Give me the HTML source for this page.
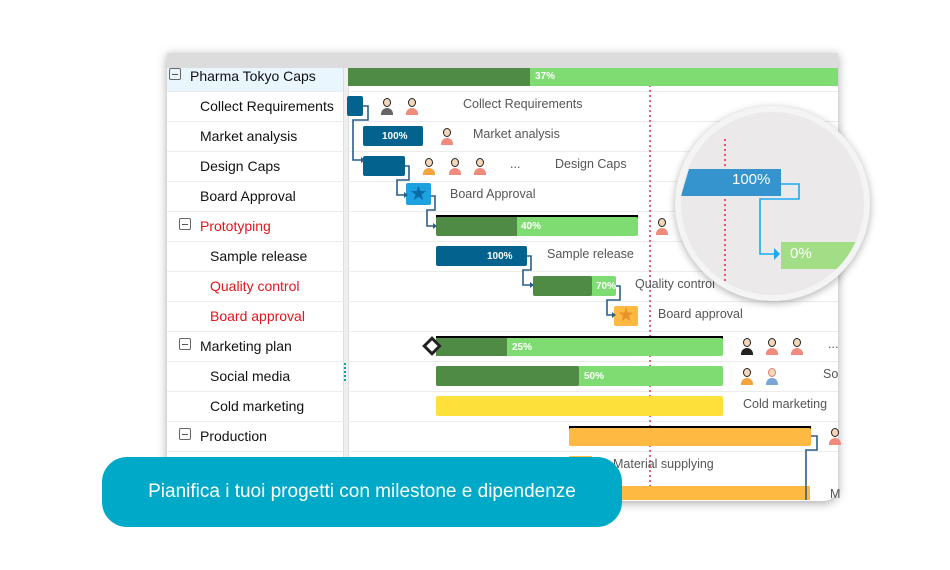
<!DOCTYPE html>
<html><head><meta charset="utf-8"><style>
*{margin:0;padding:0;box-sizing:border-box}
body{width:950px;height:570px;background:#fff;position:relative;overflow:hidden;font-family:"Liberation Sans",Arial,sans-serif}
.a{position:absolute}
.win{left:167px;top:53px;width:671px;height:448px;border-radius:0 0 14px 14px;box-shadow:0 2px 10px rgba(0,0,0,.35);overflow:hidden;background:#fff}
.lt{font-size:14px;color:#111;white-space:nowrap}
.red{color:#e0161b}
.box{width:12px;height:12px;border:1px solid #666;border-radius:2px}
.box:after{content:"";position:absolute;left:2px;top:5px;width:6px;height:1px;background:#555}
.hl{height:1px;background:#ececec}
.bar{height:20px;border-radius:2px}
.pt{font-size:10px;font-weight:bold;color:#fff}
.lb{font-size:12.5px;color:#555;white-space:nowrap}
.av{width:14px;height:18px}
.av i{position:absolute;left:3px;top:1px;width:8px;height:9px;border-radius:50%;background:#f4d6b8;border:1.5px solid #222}
.av b{position:absolute;left:1px;top:11px;width:12px;height:7px;border-radius:6px 6px 0 0;background:#f08a7a}
</style></head><body>
<div class="a win">
  <div class="a" style="left:0;top:0;width:671px;height:15px;background:#dcdcdc"></div>
  <div class="a" style="left:0;top:15px;width:176px;height:23px;background:#eaf6fd"></div>
  <div class="a" style="left:176px;top:15px;width:6px;height:433px;background:#f0f0f0;border-left:1px solid #ddd;border-right:1px solid #ddd"></div>
</div>
<div class="a" style="left:167px;top:91px;width:671px">
 <div class="a hl" style="top:0;width:100%"></div><div class="a hl" style="top:30px;width:100%"></div><div class="a hl" style="top:60px;width:100%"></div><div class="a hl" style="top:90px;width:100%"></div><div class="a hl" style="top:120px;width:100%"></div><div class="a hl" style="top:150px;width:100%"></div><div class="a hl" style="top:180px;width:100%"></div><div class="a hl" style="top:210px;width:100%"></div><div class="a hl" style="top:240px;width:100%"></div><div class="a hl" style="top:270px;width:100%"></div><div class="a hl" style="top:300px;width:100%"></div><div class="a hl" style="top:330px;width:100%"></div><div class="a hl" style="top:360px;width:100%"></div>
</div>
<div class="a box" style="left:169px;top:68px"></div><div class="a lt" style="left:190px;top:68px">Pharma Tokyo Caps</div>
<div class="a lt" style="left:200px;top:98px">Collect Requirements</div>
<div class="a lt" style="left:200px;top:128px">Market analysis</div>
<div class="a lt" style="left:200px;top:158px">Design Caps</div>
<div class="a lt" style="left:200px;top:188px">Board Approval</div>
<div class="a box" style="left:179px;top:218px"></div><div class="a lt red" style="left:200px;top:218px">Prototyping</div>
<div class="a lt" style="left:210px;top:248px">Sample release</div>
<div class="a lt red" style="left:210px;top:278px">Quality control</div>
<div class="a lt red" style="left:210px;top:308px">Board approval</div>
<div class="a box" style="left:179px;top:338px"></div><div class="a lt" style="left:200px;top:338px">Marketing plan</div>
<div class="a lt" style="left:210px;top:368px">Social media</div>
<div class="a lt" style="left:210px;top:398px">Cold marketing</div>
<div class="a box" style="left:179px;top:428px"></div><div class="a lt" style="left:200px;top:428px">Production</div>
<div class="a" style="left:344px;top:363px;width:2px;height:18px;background:repeating-linear-gradient(#1a9ab0 0 2px,transparent 2px 4px)"></div>
<div class="a" style="left:649px;top:85px;width:2px;height:415px;background:repeating-linear-gradient(#f06070 0 2px,transparent 2px 5px)"></div>
<div class="a" style="left:348px;top:68px;width:490px;height:18px;background:#7fdc72"></div>
<div class="a" style="left:348px;top:68px;width:182px;height:18px;background:#508b46"></div>
<div class="a pt" style="left:535px;top:71px">37%</div>
<div class="a bar" style="left:347px;top:96px;width:16px;background:#04628e"></div>
<div class="a bar" style="left:363px;top:126px;width:60px;background:#04628e"></div><div class="a pt" style="left:382px;top:131px">100%</div>
<div class="a bar" style="left:363px;top:156px;width:42px;background:#04628e"></div>
<div class="a" style="left:406px;top:183px;width:25px;height:22px;background:#1da1e0;border-radius:2px;color:#0d6aa8;font-size:20px;line-height:22px;text-align:center">★</div>
<div class="a" style="left:436px;top:215px;width:202px;height:3px;background:#000"></div>
<div class="a bar" style="left:436px;top:217px;width:202px;height:19px;background:#7fdc72"></div>
<div class="a" style="left:436px;top:217px;width:81px;height:19px;background:#508b46;border-radius:2px 0 0 2px"></div><div class="a pt" style="left:521px;top:221px">40%</div>
<div class="a bar" style="left:436px;top:246px;width:91px;background:#04628e"></div><div class="a pt" style="left:487px;top:251px">100%</div>
<div class="a bar" style="left:533px;top:276px;width:83px;background:#7fdc72"></div>
<div class="a bar" style="left:533px;top:276px;width:59px;background:#508b46"></div><div class="a pt" style="left:596px;top:281px">70%</div>
<div class="a" style="left:614px;top:306px;width:24px;height:20px;background:#fdb942;border-radius:2px;color:#e8922a;font-size:19px;line-height:20px;text-align:center">★</div>
<div class="a" style="left:436px;top:336px;width:287px;height:3px;background:#000"></div>
<div class="a bar" style="left:436px;top:338px;width:287px;height:18px;background:#7fdc72"></div>
<div class="a" style="left:436px;top:338px;width:71px;height:18px;background:#508b46"></div><div class="a pt" style="left:512px;top:342px">25%</div>
<div class="a" style="left:425px;top:339px;width:14px;height:14px;background:#fff;border:3px solid #222;transform:rotate(45deg)"></div>
<div class="a bar" style="left:436px;top:366px;width:287px;background:#7fdc72"></div>
<div class="a bar" style="left:436px;top:366px;width:143px;background:#508b46"></div><div class="a pt" style="left:584px;top:371px">50%</div>
<div class="a bar" style="left:436px;top:396px;width:287px;background:#fde03a"></div>
<div class="a" style="left:569px;top:426px;width:242px;height:3px;background:#000"></div>
<div class="a" style="left:569px;top:428px;width:242px;height:18px;background:#fdb942;border-radius:2px"></div>
<div class="a" style="left:569px;top:456px;width:23px;height:20px;background:#fdb942"></div>
<div class="a" style="left:569px;top:486px;width:241px;height:14px;background:#fdb942"></div>
<svg class="a" style="left:0;top:0" width="950" height="570">
<g fill="none" stroke="#2a5f8a" stroke-width="1.6">
<path d="M363 106 h5 v14 h-15 v40 h8"/>
<path d="M405 166 h4 v14 h-12 v15 h7"/>
<path d="M431 196 h4 v14 h-8 v16 h7"/>
<path d="M527 256 h4 v14 h-8 v15 h8"/>
<path d="M616 286 h4 v14 h-13 v15 h6"/>
<path d="M811 436 h6 v14 h-11 v50"/>
</g>
<g fill="#2a5f8a"><path d="M361 157l4 3-4 3z"/><path d="M404 192l4 3-4 3z"/><path d="M433 223l4 3-4 3z"/><path d="M530 282l4 3-4 3z"/><path d="M612 312l4 3-4 3z"/></g>
</svg>
<div class="a lb" style="left:463px;top:97px">Collect Requirements</div>
<div class="a lb" style="left:473px;top:127px">Market analysis</div>
<div class="a lb" style="left:510px;top:157px">...</div>
<div class="a lb" style="left:555px;top:157px">Design Caps</div>
<div class="a lb" style="left:450px;top:187px">Board Approval</div>
<div class="a lb" style="left:547px;top:247px">Sample release</div>
<div class="a lb" style="left:635px;top:277px">Quality control</div>
<div class="a lb" style="left:658px;top:307px">Board approval</div>
<div class="a lb" style="left:743px;top:397px">Cold marketing</div>
<div class="a lb" style="left:823px;top:367px">So</div>
<div class="a lb" style="left:828px;top:337px">...</div>
<div class="a lb" style="left:613px;top:457px">Material supplying</div>
<div class="a lb" style="left:830px;top:487px">M</div>
<div class="a av" style="left:380px;top:97px"><i></i><b style="background:#666"></b></div>
<div class="a av" style="left:405px;top:97px"><i></i><b></b></div>
<div class="a av" style="left:440px;top:127px"><i></i><b></b></div>
<div class="a av" style="left:422px;top:157px"><i></i><b style="background:#f5a33b"></b></div>
<div class="a av" style="left:448px;top:157px"><i></i><b></b></div>
<div class="a av" style="left:473px;top:157px"><i></i><b></b></div>
<div class="a av" style="left:655px;top:217px"><i></i><b></b></div>
<div class="a av" style="left:740px;top:337px"><i></i><b style="background:#222"></b></div>
<div class="a av" style="left:765px;top:337px"><i></i><b></b></div>
<div class="a av" style="left:790px;top:337px"><i></i><b></b></div>
<div class="a av" style="left:740px;top:367px"><i></i><b style="background:#f5a33b"></b></div>
<div class="a av" style="left:765px;top:367px"><i style="border-color:#e0806a"></i><b style="background:#7aa6d6"></b></div>
<div class="a av" style="left:828px;top:427px"><i></i><b></b></div>
<div class="a" style="left:675px;top:106px;width:195px;height:195px;border-radius:50%;background:#f4f4f4;box-shadow:0 2px 8px rgba(0,0,0,.3);overflow:hidden">
 <div class="a" style="left:6px;top:6px;width:183px;height:183px;border-radius:50%;background:#ebe9ea;overflow:hidden">
  <div class="a" style="left:43px;top:27px;width:2px;height:150px;background:repeating-linear-gradient(#f0506a 0 2px,transparent 2px 5px)"></div>
  <div class="a" style="left:0;top:57px;width:100px;height:27px;background:#3593cd;clip-path:polygon(8% 0,100% 0,100% 100%,0 100%)"></div>
  <div class="a" style="left:51px;top:59px;color:#fff;font-size:15px">100%</div>
  <svg class="a" style="left:0;top:0" width="183" height="183"><path d="M100 72 h18 v15 h-39 v55 h15" fill="none" stroke="#1eaaf1" stroke-width="1.6"/><path d="M93 136l6 6-6 6z" fill="#1eaaf1"/></svg>
  <div class="a" style="left:100px;top:130px;width:80px;height:27px;background:#a1de85;clip-path:polygon(0 0,100% 0,92% 100%,0 100%)"></div>
  <div class="a" style="left:109px;top:133px;color:#fff;font-size:15px">0%</div>
 </div>
</div>
<div class="a" style="left:102px;top:457px;width:520px;height:70px;border-radius:25px;background:#00a9c8;color:#fff;font-size:19px;line-height:70px;text-align:center">Pianifica i tuoi progetti con milestone e dipendenze</div>
</body></html>
